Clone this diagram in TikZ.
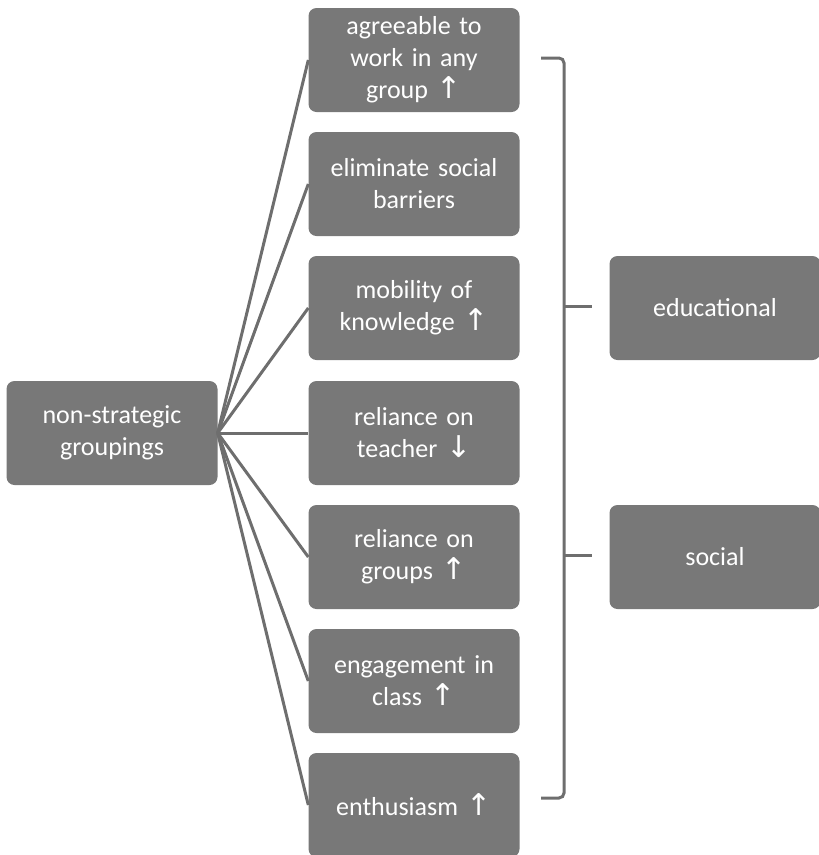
\documentclass[tikz,border=0pt]{standalone}
\usepackage{fontspec}
\setmainfont{Carlito}[WordSpace=0.8]
\newfontfamily\arrfont{DejaVu Sans}
\newcommand{\up}{{\arrfont\fontsize{30}{32}\selectfont ↑}}
\newcommand{\down}{{\arrfont\fontsize{30}{32}\selectfont ↓}}
\begin{document}
\begin{tikzpicture}[x=1pt,y=-1pt,
  box/.style={draw=none,fill=boxgray,rounded corners=8pt,minimum width=211pt,minimum height=104pt,
    text=white,align=center,inner sep=2pt,font=\fontsize{26}{32}\selectfont,text width=200pt},
  conn/.style={draw=linegray,line width=3pt},
]
\definecolor{boxgray}{HTML}{787878}
\definecolor{linegray}{HTML}{6E6E6E}
\useasboundingbox (0,0) rectangle (819,855);
\node[box] (L) at (112,433) {non-strategic\\groupings};
\node[box] (m1) at (414,60) {agreeable to\\work in any\\group \up};
\node[box] (m2) at (414,184) {eliminate social\\barriers};
\node[box] (m3) at (414,308) {mobility of\\knowledge \up};
\node[box] (m4) at (414,433) {reliance on\\teacher \down};
\node[box] (m5) at (414,557) {reliance on\\groups \up};
\node[box] (m6) at (414,681) {engagement in\\class \up};
\node[box] (m7) at (414,805) {enthusiasm \up};
\node[box] (r1) at (715,308) {educational};
\node[box] (r2) at (715,557) {social};
\foreach \m in {m1,m2,m3,m4,m5,m6,m7}
  \draw[conn] (L.east) -- (\m.west);
\coordinate (bt) at (541,58);
\coordinate (bb) at (541,798);
\coordinate (t1) at (592,306);
\coordinate (t2) at (592,555);
\draw[conn,rounded corners=5pt] (bt) -- (564,58) -- (564,798) -- (bb);
\draw[conn] (564,306) -- (t1);
\draw[conn] (564,555) -- (t2);
\end{tikzpicture}
\end{document}
